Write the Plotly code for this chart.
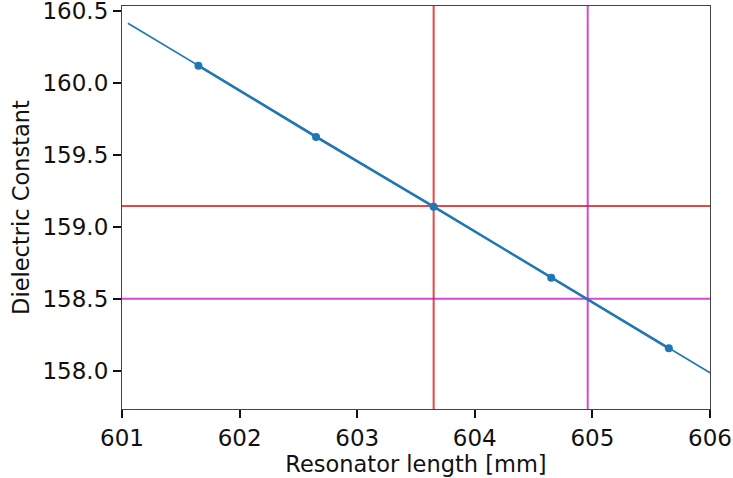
import plotly.graph_objects as go

# Measured resonator lengths and the corresponding dielectric constants
lengths_mm = [601.65, 602.65, 603.65, 604.65, 605.65]
dielectric = [160.12, 159.625, 159.14, 158.645, 158.155]

# Linear fit drawn over the extended length range
fit_lengths = [601.05, 606.0]
fit_dielectric = [160.415, 157.985]

# Reference markers (length, dielectric constant)
ref_red = (603.65, 159.145)
ref_magenta = (604.96, 158.5)

x_ticks = [601, 602, 603, 604, 605, 606]
y_ticks = [158.0, 158.5, 159.0, 159.5, 160.0, 160.5]

BLUE = "#1f77b4"
RED = "rgba(222,40,40,0.85)"
MAGENTA = "rgba(191,0,191,0.7)"
FONT = "DejaVu Sans"

fig = go.Figure()

fig.add_trace(go.Scatter(
    x=fit_lengths, y=fit_dielectric, mode="lines",
    line=dict(color=BLUE, width=1.6), showlegend=False,
))
fig.add_trace(go.Scatter(
    x=lengths_mm, y=dielectric, mode="lines+markers",
    line=dict(color=BLUE, width=2.5),
    marker=dict(color=BLUE, size=8), showlegend=False,
))

fig.add_vline(x=ref_red[0], line=dict(color=RED, width=2), layer="below")
fig.add_hline(y=ref_red[1], line=dict(color=RED, width=2), layer="below")
fig.add_vline(x=ref_magenta[0], line=dict(color=MAGENTA, width=2), layer="below")
fig.add_hline(y=ref_magenta[1], line=dict(color=MAGENTA, width=2), layer="below")

axis_common = dict(
    showline=True, mirror=True, linecolor="#444", linewidth=1.2,
    ticks="outside", ticklen=8, tickwidth=1.6, tickcolor="#111",
    showgrid=False, zeroline=False, automargin=False,
    ticklabeloverflow="allow",
    tickfont=dict(family=FONT, size=23, color="#111"),
    title_font=dict(family=FONT, size=22.5, color="#111"),
)

fig.update_xaxes(
    range=[601, 606], tickvals=x_ticks, ticktext=[str(v) for v in x_ticks],
    title_text="Resonator length [mm]", title_standoff=2, **axis_common,
)
fig.update_yaxes(
    range=[157.733, 160.535], tickvals=y_ticks,
    ticktext=[f"{v:.1f}" for v in y_ticks],
    title_text="Dielectric Constant", title_standoff=6, **axis_common,
)

fig.update_layout(
    width=733, height=478,
    margin=dict(l=122, r=23, t=6, b=69),
    plot_bgcolor="white", paper_bgcolor="white",
    font=dict(family=FONT, color="#111"),
)

fig.write_html("out.html")
